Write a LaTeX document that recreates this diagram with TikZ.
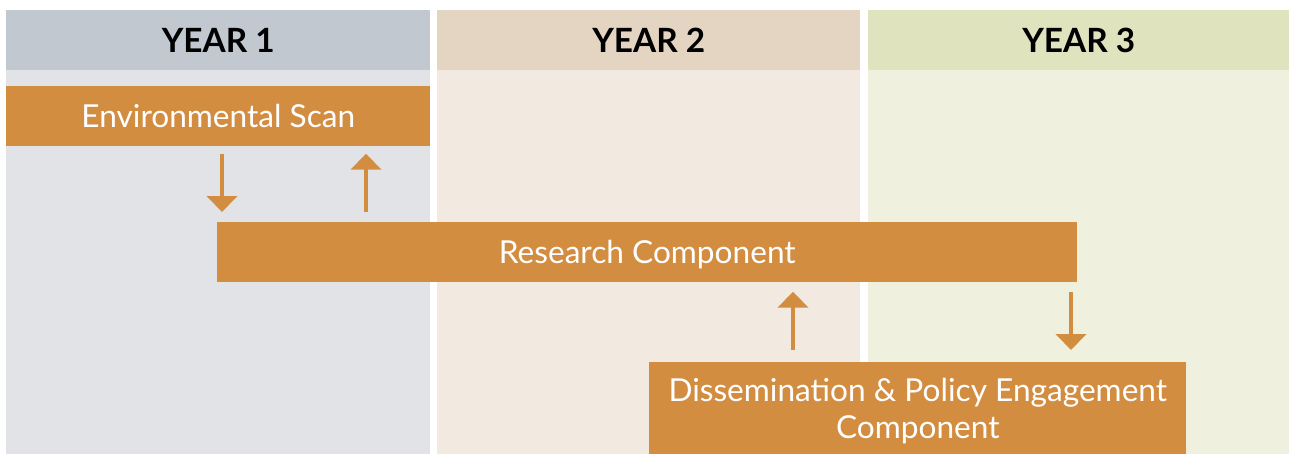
\documentclass[tikz,border=0pt]{standalone}
\usepackage{fontspec}
\setmainfont{Lato}
\usetikzlibrary{arrows.meta,positioning}
\definecolor{hdone}{HTML}{C1C8CF}
\definecolor{bdone}{HTML}{E1E3E7}
\definecolor{hdtwo}{HTML}{E4D5C3}
\definecolor{bdtwo}{HTML}{F2E9E0}
\definecolor{hdthree}{HTML}{E0E4BE}
\definecolor{bdthree}{HTML}{EFF0DE}
\definecolor{phase}{HTML}{D38D41}

\begin{document}
\begin{tikzpicture}[x=0.02cm,y=-0.02cm,
  yearhd/.style={anchor=north west,minimum height=1.2cm,inner sep=0pt,text depth=0pt,font=\fontsize{19}{22}\selectfont\bfseries},
  phasebox/.style={fill=phase,text=white,anchor=north west,minimum height=1.2cm,inner sep=0pt,text depth=0pt,align=center,font=\fontsize{18}{21.6}\selectfont},
  flow/.style={draw=phase,line width=2.8pt,-{Triangle[width=0.6cm,length=0.32cm]}}]
\useasboundingbox (0,0) rectangle (1289,454);
% year columns
\fill[bdone] (6,70) rectangle (430,454);
\fill[bdtwo] (437,70) rectangle (860,454);
\fill[bdthree] (868,70) rectangle (1289,454);
\node[yearhd,fill=hdone,minimum width=8.48cm] (yr1) at (6,10) {YEAR 1};
\node[yearhd,fill=hdtwo,minimum width=8.46cm] (yr2) at (437,10) {YEAR 2};
\node[yearhd,fill=hdthree,minimum width=8.42cm] (yr3) at (868,10) {YEAR 3};
% components
\node[phasebox,minimum width=8.48cm] (scan) at (6,86) {Environmental Scan};
\node[phasebox,minimum width=17.2cm] (res) at (217,222) {Research Component};
\node[phasebox,minimum width=10.74cm,minimum height=1.84cm] (diss) at (649,362) {Dissemination \& Policy Engagement\\Component};
% arrows
\coordinate (a1) at (222,0);
\coordinate (a2) at (366,0);
\coordinate (a3) at (793,0);
\coordinate (a4) at (1071,0);
\draw[flow,shorten <=0.14cm,shorten >=0.2cm] (scan.south -| a1) -- (res.north -| a1);
\draw[flow,shorten <=0.2cm,shorten >=0.14cm] (res.north -| a2) -- (scan.south -| a2);
\draw[flow,shorten <=0.24cm,shorten >=0.18cm] (diss.north -| a3) -- (res.south -| a3);
\draw[flow,shorten <=0.18cm,shorten >=0.24cm] (res.south -| a4) -- (diss.north -| a4);
\end{tikzpicture}
\end{document}
